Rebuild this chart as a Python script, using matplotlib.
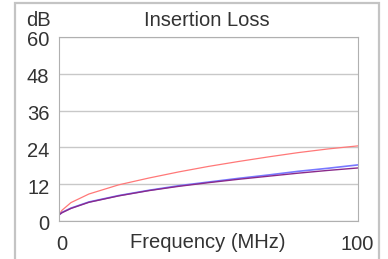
import numpy as np
import matplotlib.pyplot as plt
import matplotlib.transforms as mtransforms
from matplotlib.patches import Rectangle

plt.rcParams['font.family'] = ['Liberation Sans', 'DejaVu Sans']

# Частоты (МГц) и затухание (дБ)
freq = [0, 1, 4, 10, 20, 30, 40, 50, 60, 70, 80, 90, 100]
loss_red = [2.0, 3.5, 6.0, 8.8, 11.8, 14.0, 16.0, 17.8, 19.4, 20.9, 22.3, 23.5, 24.5]
loss_blue = [2.0, 2.8, 4.2, 6.2, 8.3, 10.0, 11.5, 12.7, 13.9, 15.0, 16.2, 17.2, 18.3]
loss_purple = [2.0, 2.7, 4.1, 6.1, 8.2, 9.9, 11.3, 12.5, 13.6, 14.6, 15.6, 16.5, 17.3]
y_ticks = [0, 12, 24, 36, 48, 60]

W, H = 388, 259
FS = 14.5
TXT = '#333333'
fig = plt.figure(figsize=(W / 100, H / 100), dpi=100)

# Внешняя рамка
fig.add_artist(Rectangle((15 / W, -0.1), (379 - 15) / W, 1.1 - 3 / H,
                         transform=fig.transFigure, fill=False,
                         edgecolor='#c4c4c4', linewidth=1.6))

ax = fig.add_axes([59 / W, 1 - 221 / H, (358 - 59) / W, (221 - 37) / H])
ax.plot(freq, loss_red, color='#ff7878', linewidth=0.9)
ax.plot(freq, loss_blue, color='#7878ff', linewidth=1.2)
ax.plot(freq, loss_purple, color='#8a2a8a', linewidth=1.0)

ax.set_xlim(0, 100)
ax.set_ylim(0, 60)
ax.set_yticks(y_ticks)
ax.set_yticklabels([str(v) for v in y_ticks], fontsize=FS, color=TXT)
ax.set_xticks([])
ax.tick_params(axis='y', length=0, pad=7)
off = mtransforms.ScaledTranslation(0, -2 / 100, fig.dpi_scale_trans)
for lab in ax.get_yticklabels():
    lab.set_transform(lab.get_transform() + off)
ax.grid(axis='y', color='#c8c8c8', linewidth=1.0)
for s in ax.spines.values():
    s.set_color('#b0b0b0')

fig.text(26 / W, 1 - 20 / H, 'dB', fontsize=FS, color=TXT, va='center')
fig.text(207 / W, 1 - 20 / H, 'Insertion Loss', fontsize=FS, color=TXT,
         ha='center', va='center')
fig.text(61.5 / W, 1 - 244 / H, '0', fontsize=FS, color=TXT,
         ha='center', va='center')
fig.text(207.5 / W, 1 - 243 / H, 'Frequency (MHz)', fontsize=FS, color=TXT,
         ha='center', va='center')
fig.text(374 / W, 1 - 244 / H, '100', fontsize=FS, color=TXT,
         ha='right', va='center')

fig.savefig('out.png', dpi=100)
